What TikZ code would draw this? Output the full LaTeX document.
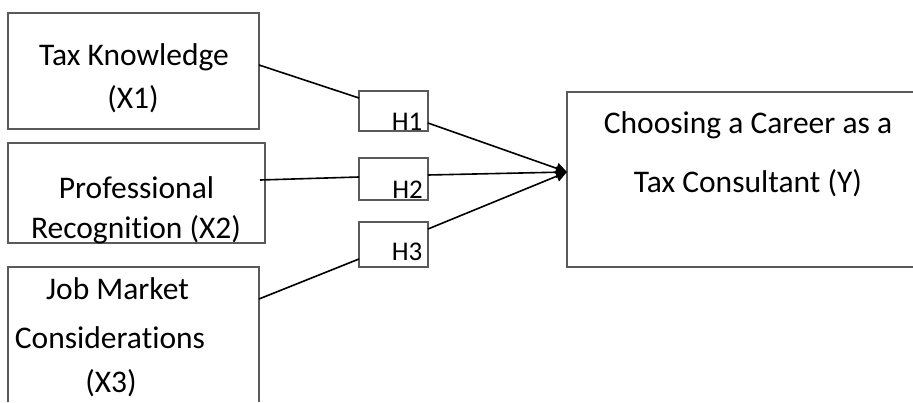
\documentclass[tikz,border=0pt]{standalone}
\usepackage{fontspec}
\setmainfont{Carlito}[Ligatures={NoCommon}]
\usetikzlibrary{arrows.meta}
\definecolor{boxgray}{HTML}{5A5A5A}
\tikzset{
  box/.style={draw=boxgray, line width=2pt, rectangle, inner sep=0pt, outer sep=0pt, anchor=north west},
  openbox/.style={box, draw=none},
  boxline/.style={draw=boxgray, line width=2pt},
  hbox/.style={box},
  lbl/.style={anchor=base, inner sep=0pt, font=\fontsize{31.5}{37}\selectfont},
  hlbl/.style={anchor=base, inner sep=0pt, font=\fontsize{27}{32}\selectfont},
  conn/.style={draw=black, line width=1.6pt},
  arr/.style={conn, -{Triangle[length=11pt,width=11pt]}}
}
\begin{document}
\begin{tikzpicture}[x=1pt, y=-1pt]
  \useasboundingbox (0,0) rectangle (913,402);
  \fill[white] (0,0) rectangle (913,402);

  % variable boxes
  \node[box, minimum width=251pt, minimum height=116pt] (x1) at (8,13) {};
  \node[box, minimum width=257pt, minimum height=100pt] (x2) at (8,143) {};
  % these two run to the edge of the page: only three sides are drawn
  \node[openbox, minimum width=251pt, minimum height=135pt] (x3) at (8,267) {};
  \draw[boxline] (x3.south west) -- (x3.north west) -- (x3.north east) -- (x3.south east);
  \node[openbox, minimum width=346pt, minimum height=175pt] (y) at (567,92) {};
  \draw[boxline] (y.north east) -- (y.north west) -- (y.south west) -- (y.south east);

  % hypothesis boxes
  \node[hbox, minimum width=69pt, minimum height=40pt] (h1) at (359,91) {};
  \node[hbox, minimum width=69pt, minimum height=42pt] (h2) at (359,158) {};
  \node[hbox, minimum width=69pt, minimum height=45pt] (h3) at (359,222) {};

  % box texts
  \node[lbl] (t1a) at (134,65) {Tax Knowledge};
  \node[lbl] (t1b) at (133,108) {(X1)};
  \node[lbl] (t2a) at (136.5,198) {Professional};
  \node[lbl] (t2b) at (136,238) {Recognition (X2)};
  \node[lbl] (t3a) at (117.5,299) {Job Market};
  \node[lbl] (t3b) at (110,348) {Considerations};
  \node[lbl] (t3c) at (111,392) {(X3)};
  \node[lbl] (tya) at (748,133) {Choosing a Career as a};
  \node[lbl] (tyb) at (748,192) {Tax Consultant (Y)};

  \node[hlbl] (l1) at (407,130) {H1};
  \node[hlbl] (l2) at (407.5,198) {H2};
  \node[hlbl] (l3) at (407,260) {H3};

  % converging point of the arrows
  \coordinate (tip) at (567,172);

  % connectors
  \draw[conn] ([yshift=-52pt]x1.north east) -- ([yshift=-7pt]h1.north west);
  \draw[arr]  ([yshift=-32pt]h1.north east) -- (tip);
  \draw[conn] ([xshift=-5pt, yshift=-37pt]x2.north east) -- ([yshift=-19pt]h2.north west);
  \draw[arr]  ([yshift=-17pt]h2.north east) -- (tip);
  \draw[conn] ([yshift=-32pt]x3.north east) -- ([yshift=-37pt]h3.north west);
  \draw[arr]  ([yshift=-7pt]h3.north east) -- (tip);
\end{tikzpicture}
\end{document}
